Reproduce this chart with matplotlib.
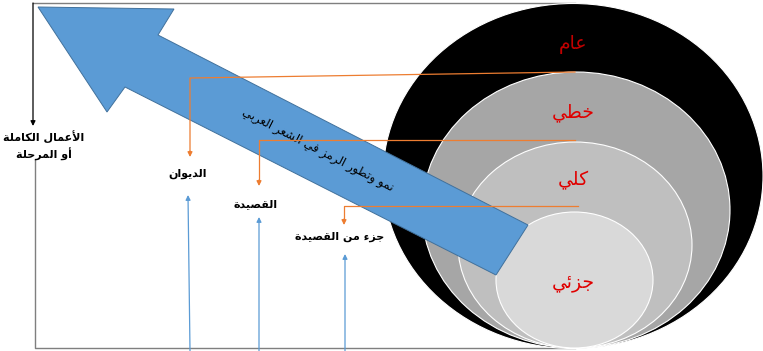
import matplotlib
matplotlib.use("Agg")
import matplotlib.pyplot as plt
from matplotlib.patches import Ellipse, Polygon

# labels of the diagram
ring_labels = ['عام', 'خطي', 'كلي', 'جزئي']
ring_label_colors = ['#C00000', '#E00000', '#E00000', '#E00000']
ring_colors = ['#000000', '#A6A6A6', '#BFBFBF', '#D9D9D9']
level_labels = ['الديوان', 'القصيدة', 'جزء من القصيدة']
side_label = ['الأعمال الكاملة', 'أو المرحلة']
arrow_text = 'نمو وتطور الرمز في الشعر العربي'

# arabic presentation forms (letter, first code, number of forms)
FORM_TABLE = [('ء', 0xFE80, 1), ('أ', 0xFE83, 2), ('ئ', 0xFE89, 4), ('ا', 0xFE8D, 2),
              ('ب', 0xFE8F, 4), ('ة', 0xFE93, 2), ('ت', 0xFE95, 4), ('ج', 0xFE9D, 4),
              ('ح', 0xFEA1, 4), ('خ', 0xFEA5, 4), ('د', 0xFEA9, 2), ('ر', 0xFEAD, 2),
              ('ز', 0xFEAF, 2), ('ش', 0xFEB5, 4), ('ص', 0xFEB9, 4), ('ط', 0xFEC1, 4),
              ('ع', 0xFEC9, 4), ('ف', 0xFED1, 4), ('ق', 0xFED5, 4), ('ك', 0xFED9, 4),
              ('ل', 0xFEDD, 4), ('م', 0xFEE1, 4), ('ن', 0xFEE5, 4), ('و', 0xFEED, 2),
              ('ي', 0xFEF1, 4)]
FORMS = {c: (base, n) for c, base, n in FORM_TABLE}
LAM_ALEF = {'ا': 0xFEFB, 'أ': 0xFEF7}


def shape(text):
    """join the arabic letters and turn the line for left to right drawing"""
    items = []
    i = 0
    while i < len(text):
        c = text[i]
        if c == 'ل' and i + 1 < len(text) and text[i + 1] in LAM_ALEF:
            items.append(('LA', LAM_ALEF[text[i + 1]], 2))
            i += 2
        elif c in FORMS:
            items.append(('L', FORMS[c][0], FORMS[c][1]))
            i += 1
        else:
            items.append(('X', c, 0))
            i += 1
    out = []
    for k, (kind, val, n) in enumerate(items):
        if kind == 'X':
            out.append(val)
            continue
        prev_n = items[k - 1][2] if k > 0 else 0
        next_n = items[k + 1][2] if k + 1 < len(items) else 0
        join_prev = n >= 2 and prev_n == 4
        join_next = n == 4 and next_n >= 2
        if join_prev and join_next:
            form = 3
        elif join_next:
            form = 2
        elif join_prev:
            form = 1
        else:
            form = 0
        if n == 1:
            form = 0
        if kind == 'LA' and form > 1:
            form = 1
        out.append(chr(val + form))
    return ''.join(out)[::-1]


fig = plt.figure(figsize=(7.63, 3.51), dpi=100)
ax = fig.add_axes([0, 0, 1, 1])
ax.set_xlim(0, 763)
ax.set_ylim(351, 0)
ax.axis('off')
font = ['DejaVu Sans']

# nested ellipses
ring_centers = [(573, 176), (576, 210), (575, 245), (574.5, 280)]
ring_sizes = [(380, 345), (308, 276), (234, 206), (157, 136)]
for (cx, cy), (w, h), col in zip(ring_centers, ring_sizes, ring_colors):
    ax.add_patch(Ellipse((cx, cy), w, h, facecolor=col, edgecolor='white', lw=0.8, zorder=1))

ring_label_pos = [(573, 45), (573, 113), (573, 180), (573, 282)]
for lab, (x, y), col in zip(ring_labels, ring_label_pos, ring_label_colors):
    ax.text(x, y, shape(lab), color=col, fontsize=13.5, ha='center', va='center',
            family=font, zorder=6)

# frame lines
ax.plot([575, 33], [3, 3], color='#7F7F7F', lw=1, zorder=0.5)
ax.annotate('', xy=(33, 126), xytext=(33, 3),
            arrowprops=dict(arrowstyle='-|>', color='black', lw=0.9, mutation_scale=7,
                            shrinkA=0, shrinkB=0), zorder=5)
ax.plot([35, 35, 575], [160, 348, 348], color='#7F7F7F', lw=1, zorder=0.5)

# big blue arrow
arrow_pts = [(38, 7), (174, 9), (158, 35), (528, 225), (496, 275), (125, 87), (107, 112)]
ax.add_patch(Polygon(arrow_pts, closed=True, facecolor='#5B9BD5', edgecolor='#41719C',
                     lw=0.7, zorder=2))
ax.text(318, 150, shape(arrow_text), fontsize=8.5, rotation=-27.2, rotation_mode='anchor',
        ha='center', va='center', family=font, zorder=3)

# orange connectors from the rings to the levels
orange = '#ED7D31'
conn_start = [(575, 72), (575, 140), (578, 206)]
conn_x = [190, 259, 344]
conn_y = [78, 140, 206]
conn_tip = [157, 186, 225]
for (sx, sy), x, y, tip in zip(conn_start, conn_x, conn_y, conn_tip):
    ax.plot([sx, x, x], [sy, y, tip - 4], color=orange, lw=0.9, zorder=4)
    ax.annotate('', xy=(x, tip), xytext=(x, tip - 6),
                arrowprops=dict(arrowstyle='-|>', color=orange, lw=0.9, mutation_scale=7,
                                shrinkA=0, shrinkB=0), zorder=4)

# level labels
level_pos = [(188, 174), (256, 204), (340, 237)]
for lab, (x, y) in zip(level_labels, level_pos):
    ax.text(x, y, shape(lab), fontsize=8, fontweight='bold', ha='center', va='center',
            family=font, zorder=5)
ax.text(44, 146, '\n'.join(shape(s) for s in side_label), fontsize=8, fontweight='bold',
        ha='center', va='center', linespacing=1.4, family=font, zorder=5)

# thin blue arrows from the bottom
blue = '#5B9BD5'
up_x = [(190, 188), (259, 259), (345, 345)]
up_tip = [195, 217, 254]
for (xb, xt), tip in zip(up_x, up_tip):
    ax.annotate('', xy=(xt, tip), xytext=(xb, 351),
                arrowprops=dict(arrowstyle='-|>', color=blue, lw=0.9, mutation_scale=7,
                                shrinkA=0, shrinkB=0), zorder=4)

fig.savefig('out.png', dpi=100)
